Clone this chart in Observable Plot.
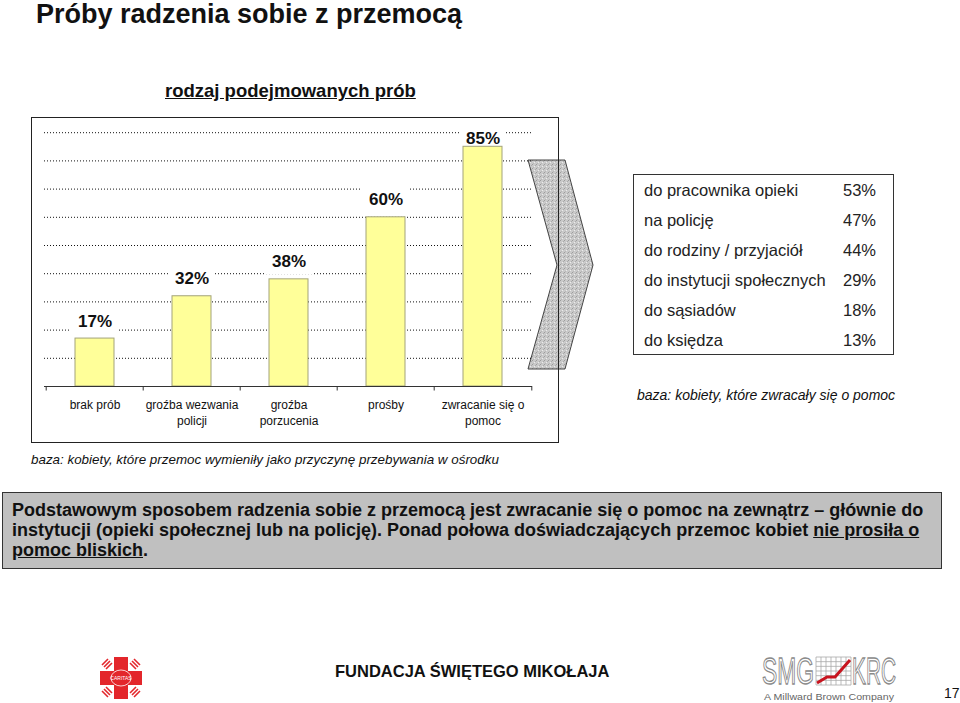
<!DOCTYPE html>
<html>
<head>
<meta charset="utf-8">
<script src="https://cdn.jsdelivr.net/npm/d3@7"></script>
<script src="https://cdn.jsdelivr.net/npm/@observablehq/plot@0.6"></script>
<style>
  html, body { margin: 0; padding: 0; background: white; }
  body { width: 960px; height: 703px; position: relative; overflow: hidden; font-family: "Liberation Sans", Arial, sans-serif; color: #111; }
  .abs { position: absolute; }
  #title { left: 36px; top: -2px; font-size: 27px; font-weight: bold; line-height: 32px; }
  #subtitle { left: 165px; top: 80px; font-size: 18.5px; font-weight: bold; text-decoration: underline; line-height: 22px; }
  #frame { left: 31px; top: 117px; width: 528px; height: 326px; border: 1px solid #222; box-sizing: border-box; z-index: 3; pointer-events: none; }
  #chart { left: 0px; top: 100px; z-index: 2; }
  #arrow { left: 0; top: 0; z-index: 1; }
  #table { left: 633px; top: 174px; width: 261px; height: 181px; border: 1px solid #333; box-sizing: border-box; z-index: 2; }
  #table .row { height: 30px; line-height: 30px; font-size: 16.5px; color: #222; display: flex; justify-content: space-between; padding: 0 17px 0 10px; }
  .base { font-style: italic; color: #111; line-height: 16px; }
  #base1 { left: 637px; top: 387px; font-size: 14px; }
  #base2 { left: 31px; top: 452px; font-size: 13.4px; }
  #note { left: 2px; top: 492px; width: 940px; height: 77px; box-sizing: border-box; border: 1px solid #333; background: #c0c0c0; padding: 7px 9px; font-size: 18px; font-weight: bold; line-height: 20px; color: #111; white-space: nowrap; }
  #foot { left: 335px; top: 661px; font-size: 16.5px; font-weight: bold; line-height: 20px; }
  #page { left: 944px; top: 685px; font-size: 14px; line-height: 16px; }
</style>
</head>
<body>
<script>
// ---- data ----
const categories = ["brak prób", "groźba wezwania policji", "groźba porzucenia", "prośby", "zwracanie się o pomoc"];
const tickLabels = ["brak prób", "groźba wezwania\npolicji", "groźba\nporzucenia", "prośby", "zwracanie się o\npomoc"];
const values = [17, 32, 38, 60, 85];
const gridTicks = [10, 20, 30, 40, 50, 60, 70, 80, 90];

const helpTargets = ["do pracownika opieki", "na policję", "do rodziny / przyjaciół", "do instytucji społecznych", "do sąsiadów", "do księdza"];
const helpValues = [53, 47, 44, 29, 18, 13];

const titleText = "Próby radzenia sobie z przemocą";
const subtitleText = "rodzaj podejmowanych prób";
const base1Text = "baza: kobiety, które zwracały się o pomoc";
const base2Text = "baza: kobiety, które przemoc wymieniły jako przyczynę przebywania w ośrodku";
const footText = "FUNDACJA ŚWIĘTEGO MIKOŁAJA";
const pageNumber = "17";

// ---- layout ----
const data = categories.map((c, i) => ({cat: c, value: values[i]}));
const W = 560, H = 340, mL = 44, mR = 28, mT = 4, mB = 54;
const bw = (W - mL - mR) / categories.length;
const labelY = d => Math.min(d.value + 6.2, 88);

function add(html, id, cls) {
  const el = document.createElement("div");
  el.className = "abs" + (cls ? " " + cls : "");
  if (id) el.id = id;
  el.innerHTML = html;
  document.body.appendChild(el);
  return el;
}

add(titleText, "title");
add(subtitleText, "subtitle");

// arrow shape
const arrowSvg = `<svg width="960" height="450" xmlns="http://www.w3.org/2000/svg">
<defs><pattern id="stip" width="4" height="4" patternUnits="userSpaceOnUse">
<rect width="4" height="4" fill="#cacaca"/><rect x="0" y="0" width="1" height="1" fill="#9d9d9d"/>
<rect x="2" y="2" width="1" height="1" fill="#ececec"/><rect x="3" y="1" width="1" height="1" fill="#ababab"/>
<rect x="1" y="3" width="1" height="1" fill="#b6b6b6"/></pattern></defs>
<polygon points="528,160 565,160 593,265 565,369 528,369 557,265" fill="url(#stip)" stroke="#444" stroke-width="1"/>
</svg>`;
add(arrowSvg, "arrow");

const chart = Plot.plot({
  width: W, height: H,
  marginLeft: mL, marginRight: mR, marginTop: mT, marginBottom: mB,
  style: {background: "transparent", fontFamily: "'Liberation Sans', Arial, sans-serif", color: "#111"},
  x: {domain: categories, padding: 0, label: null},
  y: {domain: [0, 100], axis: null},
  marks: [
    Plot.ruleY(gridTicks, {stroke: "#111", strokeDasharray: "1,2"}),
    Plot.barY(data, {x: "cat", y1: d => labelY(d) - 4.6, y2: d => labelY(d) + 4.6, fill: "white", insetLeft: 25, insetRight: 25}),
    Plot.barY(data, {x: "cat", y: "value", fill: "#ffff99", stroke: "#a3a37a", insetLeft: 29, insetRight: 29}),
    Plot.text(data, {x: "cat", y: labelY, text: d => d.value + "%", fontSize: 17, fontWeight: "bold", fill: "#111"}),
    Plot.ruleY([0], {stroke: "#333"}),
    Plot.ruleX(categories, {x: d => d, y1: 0, y2: -1.6, dx: -bw / 2, stroke: "#333"}),
    Plot.ruleX([categories[categories.length - 1]], {x: d => d, y1: 0, y2: -1.6, dx: bw / 2, stroke: "#333"}),
    Plot.axisX({tickSize: 0, tickPadding: 11, fontSize: 12, lineHeight: 1.33, fill: "#111", label: null,
      tickFormat: d => tickLabels[categories.indexOf(d)]})
  ]
});
const chartWrap = add("", "chart");
chartWrap.appendChild(chart);

add("", "frame");

// table
const tbl = add("", "table");
helpTargets.forEach((t, i) => {
  const r = document.createElement("div");
  r.className = "row";
  r.innerHTML = `<span>${t}</span><span>${helpValues[i]}%</span>`;
  tbl.appendChild(r);
});

add(base1Text, "base1", "base");
add(base2Text, "base2", "base");

add("Podstawowym sposobem radzenia sobie z przemocą jest zwracanie się o pomoc na zewnątrz – głównie do<br>instytucji (opieki społecznej lub na policję). Ponad połowa doświadczających przemoc kobiet <u>nie prosiła o</u><br><u>pomoc bliskich</u>.", "note");

// footer logos
const caritas = `<svg width="44" height="44" xmlns="http://www.w3.org/2000/svg">
<g fill="#e3262b">
<rect x="15" y="1" width="14" height="42"/><rect x="1" y="15" width="42" height="14"/>
</g>
<g stroke="#e3262b" stroke-width="1.6" fill="none">
<path d="M5 11 L11 5 M7 13 L13 7 M3 9 L9 3"/>
<path d="M33 5 L39 11 M31 7 L37 13 M35 3 L41 9"/>
<path d="M5 33 L11 39 M7 31 L13 37 M3 35 L9 41"/>
<path d="M33 39 L39 33 M31 37 L37 31 M35 41 L41 35"/>
</g>
<ellipse cx="22" cy="22" rx="10" ry="8" fill="#e3262b" stroke="white" stroke-width="0.8"/>
<text x="22" y="24" font-size="5" fill="white" text-anchor="middle" font-family="Liberation Sans, Arial">CARITAS</text>
</svg>`;
const cEl = add(caritas, "");
cEl.style.left = "99px"; cEl.style.top = "656px";

const smg = `<svg width="190" height="53" xmlns="http://www.w3.org/2000/svg" font-family="'Liberation Sans Narrow','Liberation Sans',Arial">
<text x="2" y="35" font-size="37" fill="white" stroke="#8a8a8a" stroke-width="1.3" textLength="52" lengthAdjust="spacingAndGlyphs">SMG</text>
<g stroke="#aaa" stroke-width="0.8">
${[0,1,2,3,4,5,6,7].map(k => `<line x1="${56 + k*5}" y1="8" x2="${56 + k*5}" y2="36"/>`).join("")}
${[0,1,2,3,4,5,6].map(k => `<line x1="56" y1="${8 + k*4.67}" x2="91" y2="${8 + k*4.67}"/>`).join("")}
</g>
<polyline points="57,34 67,28 75,28 90,11" fill="none" stroke="#c8141e" stroke-width="3"/>
<text x="92" y="35" font-size="37" fill="white" stroke="#8a8a8a" stroke-width="1.3" textLength="44" lengthAdjust="spacingAndGlyphs">KRC</text>
<text x="4" y="50.5" font-size="9" fill="#666" textLength="130" lengthAdjust="spacingAndGlyphs" font-family="'Liberation Sans',Arial">A Millward Brown Company</text>
</svg>`;
const sEl = add(smg, "");
sEl.style.left = "760px"; sEl.style.top = "649px";

add(footText, "foot");
add(pageNumber, "page");
</script>
</body>
</html>
